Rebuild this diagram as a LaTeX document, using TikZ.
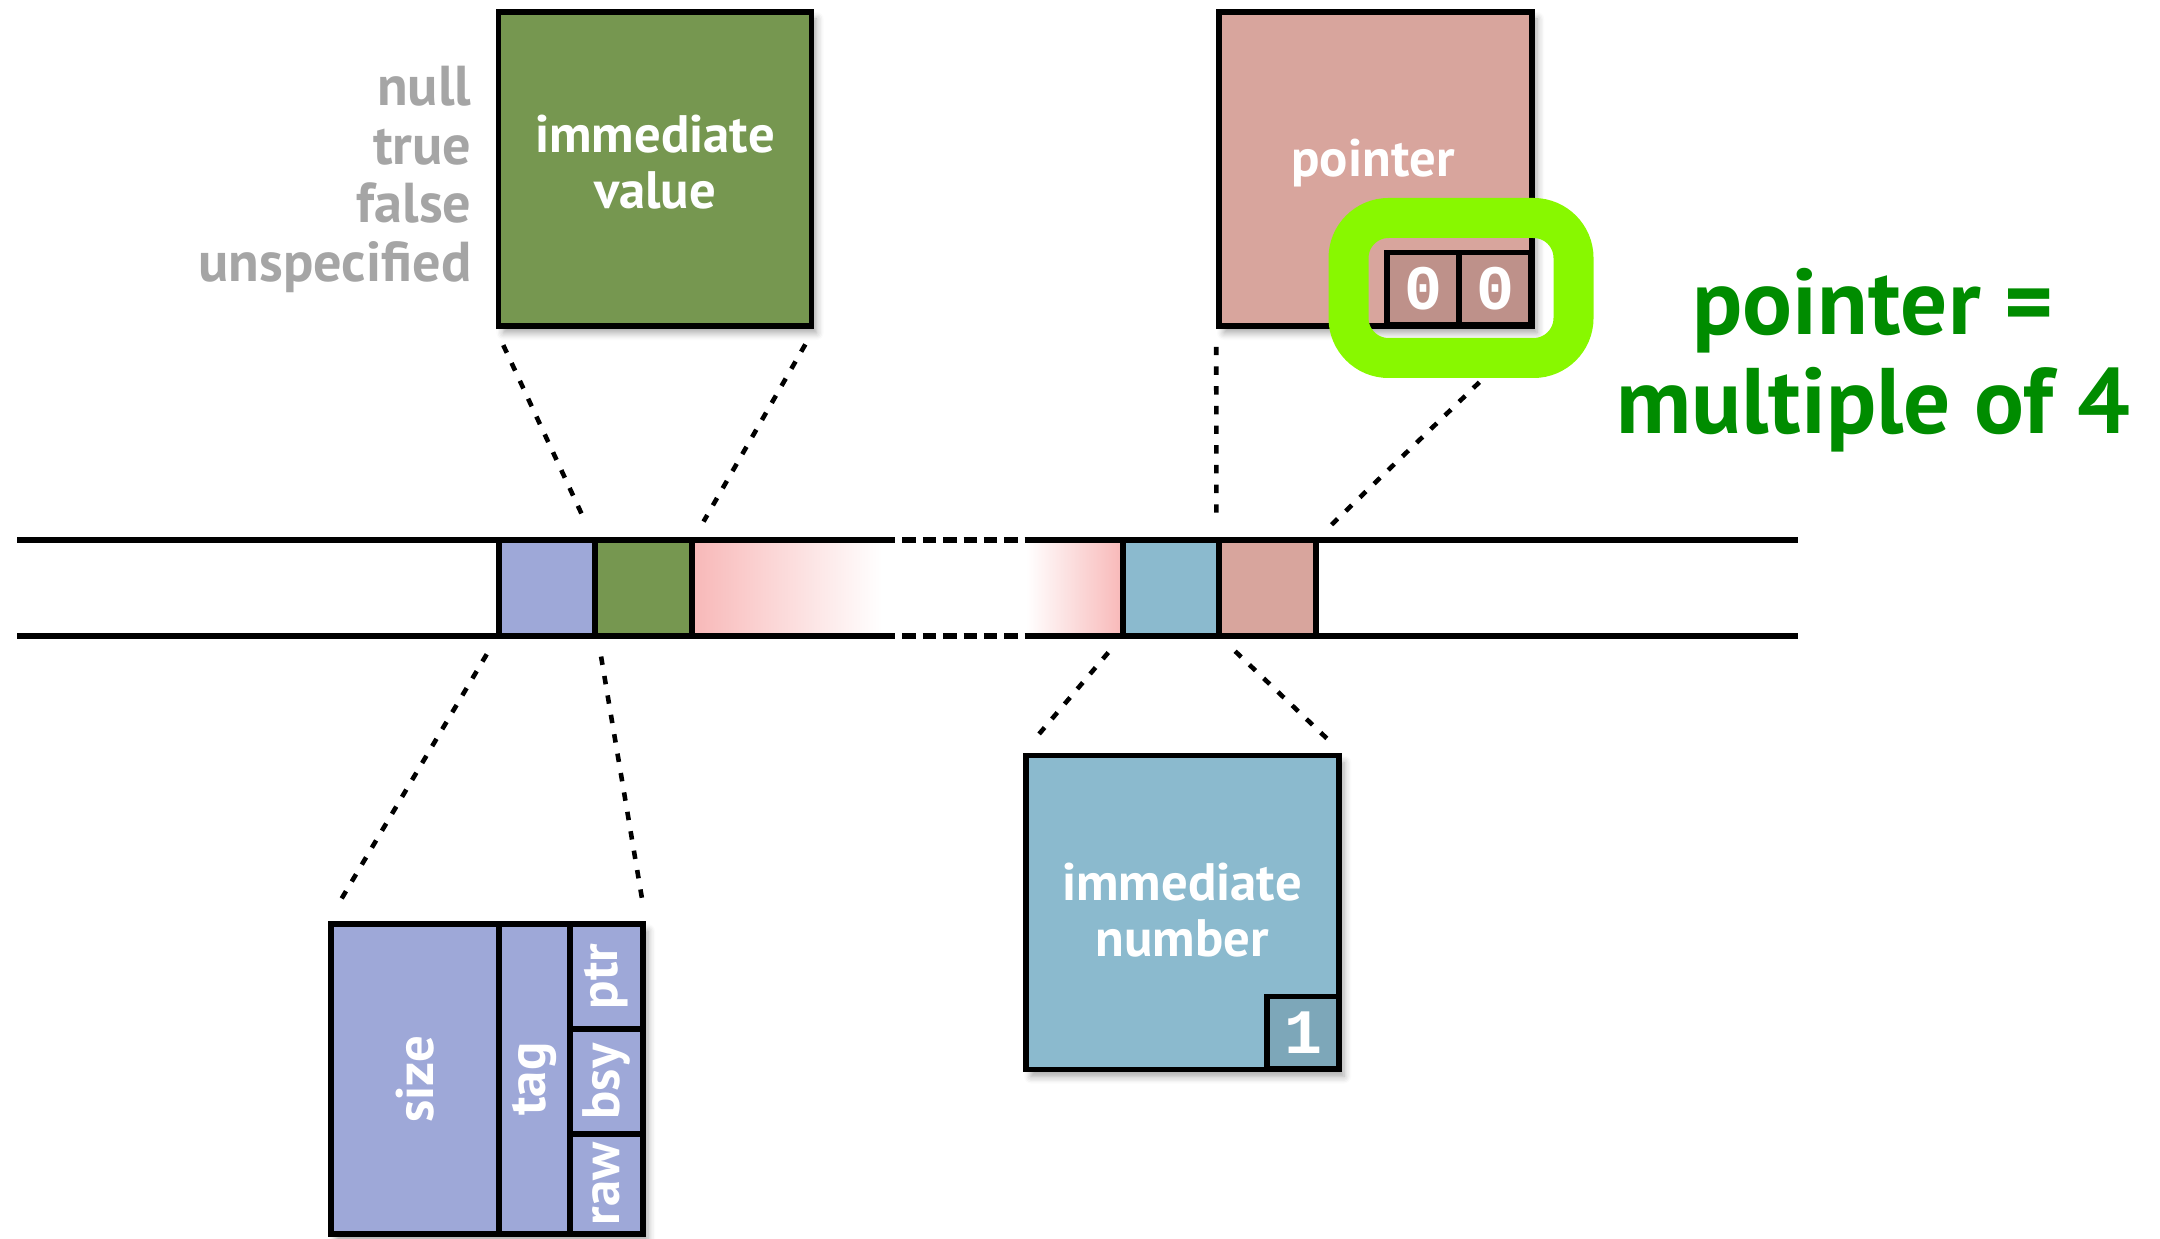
\documentclass[tikz,border=0pt]{standalone}
\usepackage{fontspec}
\setmainfont{PT Sans}
\setmonofont{Liberation Mono}
\usetikzlibrary{shadows.blur}
\definecolor{valgreen}{RGB}{118,151,80}
\definecolor{ptrpink}{RGB}{216,165,157}
\definecolor{numblue}{RGB}{139,186,206}
\definecolor{hdrpurple}{RGB}{158,168,216}
\definecolor{fadepink}{RGB}{248,184,184}
\definecolor{hilite}{RGB}{136,248,0}
\definecolor{notegreen}{RGB}{0,140,0}
\definecolor{labelgray}{RGB}{165,165,165}
\tikzset{
  box/.style={draw, line width=1.6pt, inner sep=0pt, minimum width=3.13cm, minimum height=3.14cm,
    blur shadow={shadow xshift=0.05cm, shadow yshift=-0.07cm, shadow blur steps=6, shadow opacity=35}},
  cell/.style={draw, line width=1.6pt, inner sep=0pt, minimum width=0.965cm, minimum height=0.96cm},
  bit/.style={draw, line width=1.6pt, inner sep=0pt, minimum size=0.72cm, text=white,
    font=\ttfamily\bfseries\fontsize{18}{18}\selectfont},
  conn/.style={line width=1.3pt, dash pattern=on 2.4pt off 3.2pt, shorten <=0.18cm, shorten >=0.18cm},
  lbl/.style={text=white, align=center, font=\bfseries\fontsize{15}{16}\selectfont},
  greylbl/.style={text=labelgray, anchor=base east, inner sep=0pt, font=\bfseries\fontsize{16}{16}\selectfont},
  note/.style={text=notegreen, anchor=base, font=\bfseries\fontsize{26.5}{28}\selectfont}
}

\begin{document}
\begin{tikzpicture}
\useasboundingbox (0,0) rectangle (21.6,12.38);

% word band
\fill[left color=fadepink, middle color=fadepink!92, right color=white] (6.92,6.02) rectangle (8.82,6.98);
\fill[left color=white, right color=fadepink] (10.26,6.02) rectangle (11.23,6.98);
\draw[line width=1.6pt] (0.17,6.98) -- (8.82,6.98) (10.26,6.98) -- (17.98,6.98);
\draw[line width=1.6pt] (0.17,6.02) -- (8.82,6.02) (10.26,6.02) -- (17.98,6.02);
\draw[line width=1.6pt, dash pattern=on 3.8pt off 2pt] (8.82,6.98) -- (10.26,6.98) (8.82,6.02) -- (10.26,6.02);

% cells
\node[cell, fill=hdrpurple] (chdr) at (5.47,6.50) {};
\node[cell, fill=valgreen]  (cval) at (6.435,6.50) {};
\node[cell, fill=numblue]   (cnum) at (11.71,6.50) {};
\node[cell, fill=ptrpink]   (cptr) at (12.675,6.50) {};

% immediate value
\node[box, fill=valgreen] (val) at (6.55,10.69) {};
\node[lbl] (valtxt) at (6.55,10.76) {immediate\\value};
\node[greylbl] (gnull) at (4.72,11.32) {null};
\node[greylbl] (gtrue) at (4.72,10.73) {true};
\node[greylbl] (gfalse) at (4.72,10.15) {false};
\node[greylbl] (gunsp) at (4.72,9.56) {unspecified};

% pointer
\node[box, fill=ptrpink] (ptr) at (13.755,10.69) {};
\node[lbl] (ptrtxt) at (13.73,10.75) {pointer};
\node[bit, fill=ptrpink!88!black] (bita) at (14.23,9.495) {0};
\node[bit, fill=ptrpink!88!black] (bitb) at (14.95,9.495) {0};

% immediate number
\node[box, fill=numblue] (num) at (11.825,3.255) {};
\node[lbl] (numtxt) at (11.82,3.28) {immediate\\number};
\node[bit, fill=numblue!90!black] (bitn) at (13.03,2.055) {1};

% header
\node[box, fill=hdrpurple, minimum width=3.12cm, minimum height=3.10cm] (hdr) at (4.87,1.59) {};
\node[draw, line width=1.6pt, minimum width=1.68cm, minimum height=3.10cm] (size) at (4.15,1.59) {};
\node[draw, line width=1.6pt, minimum width=0.71cm, minimum height=3.10cm] (tag) at (5.345,1.59) {};
\node[draw, line width=1.6pt, minimum width=0.73cm, minimum height=1.05cm] (fptr) at (6.065,2.615) {};
\node[draw, line width=1.6pt, minimum width=0.73cm, minimum height=1.05cm] (fbsy) at (6.065,1.565) {};
\node[draw, line width=1.6pt, minimum width=0.73cm, minimum height=1.00cm] (fraw) at (6.065,0.54) {};
\node[lbl, rotate=90] (sizetxt) at (size) {size};
\node[lbl, rotate=90] (tagtxt) at (tag) {tag};
\node[lbl, rotate=90] (ptrlbl) at (fptr) {ptr};
\node[lbl, rotate=90] (bsylbl) at (fbsy) {bsy};
\node[lbl, rotate=90] (rawlbl) at (fraw) {raw};

% edges
\draw[conn]
(val.south west)  edge (cval.north west)
(val.south east)  edge (cval.north east)
(ptr.south west)  edge (cptr.north west)
(ptr.south east)  edge (cptr.north east)
(chdr.south west) edge (size.north west)
(chdr.south east) edge (fptr.north east)
(cnum.south west) edge (num.north west)
(cnum.south east) edge (num.north east);

% highlight
\node[draw=hilite, line width=0.4cm, rounded corners=0.4cm, minimum width=2.25cm, minimum height=1.4cm] (hl) at (14.61,9.50) {};
\node[note] (note1) at (18.73,9.03) {pointer =};
\node[note] (note2) at (18.73,8.04) {multiple of 4};

\end{tikzpicture}
\end{document}
